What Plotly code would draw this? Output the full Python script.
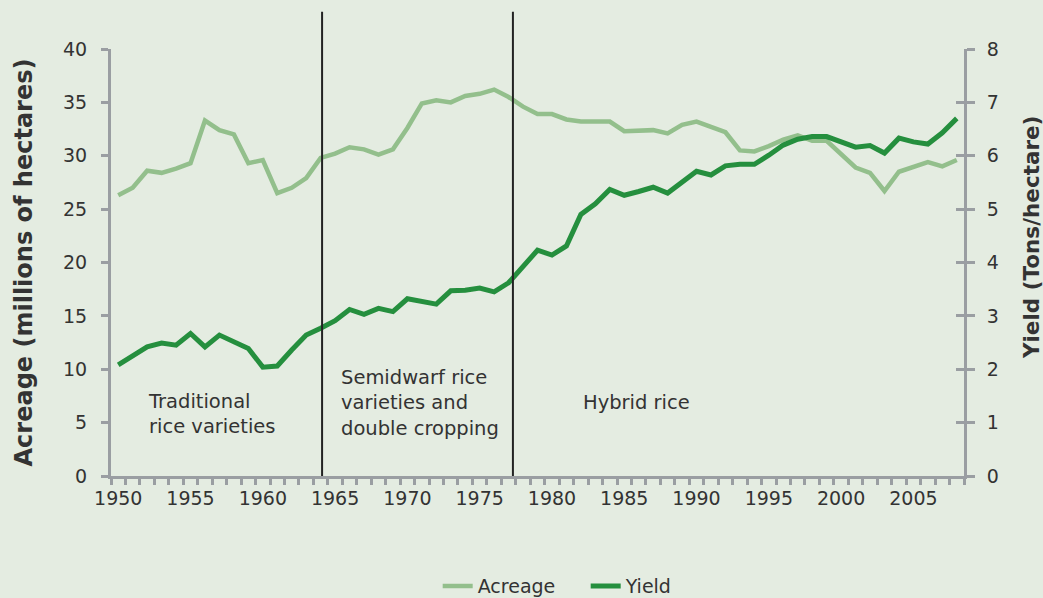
import plotly.graph_objects as go

# Years shown on the category axis
years = list(range(1950, 2009))

# Rice acreage, millions of hectares (left axis)
acreage = [
    26.3, 27.0, 28.6, 28.4, 28.8, 29.3, 33.3, 32.4, 32.0, 29.3,
    29.6, 26.5, 27.0, 27.9, 29.8, 30.2, 30.8, 30.6, 30.1, 30.6,
    32.6, 34.9, 35.2, 35.0, 35.6, 35.8, 36.2, 35.5, 34.6, 33.9,
    33.9, 33.4, 33.2, 33.2, 33.2, 32.3, 32.4, 32.4, 32.1, 32.9,
    33.2, 32.7, 32.2, 30.5, 30.4, 30.9, 31.5, 31.9, 31.4, 31.4,
    30.2, 28.9, 28.4, 26.7, 28.5, 28.9, 29.4, 29.0, 29.6,
]

# Rice yield, tons per hectare (right axis)
yield_t = [
    2.08, 2.25, 2.42, 2.49, 2.45, 2.67, 2.42, 2.64, 2.52, 2.39,
    2.04, 2.06, 2.36, 2.64, 2.77, 2.91, 3.12, 3.03, 3.14, 3.08,
    3.32, 3.28, 3.22, 3.47, 3.48, 3.52, 3.45, 3.62, 3.94, 4.23,
    4.14, 4.31, 4.90, 5.10, 5.37, 5.26, 5.33, 5.41, 5.30, 5.50,
    5.71, 5.64, 5.81, 5.84, 5.84, 6.01, 6.20, 6.31, 6.36, 6.36,
    6.25, 6.16, 6.19, 6.05, 6.33, 6.26, 6.22, 6.43, 6.70,
]

x_labels = list(range(1950, 2010, 5))
era_breaks = [1964.1, 1977.3]
era_labels = ["Traditional<br>rice varieties",
              "Semidwarf rice<br>varieties and<br>double cropping",
              "Hybrid rice"]
era_label_x = [1951.9, 1965.3, 1982.0]
era_label_y = [5.85, 6.85, 6.85]

bg = "#e4ece1"
grey = "#9a9ea2"
txt = "#333333"
font = "DejaVu Sans"

fig = go.Figure()
fig.add_trace(go.Scatter(x=years, y=acreage, mode="lines", name="Acreage",
                         line=dict(color="#93bf8c", width=4.5)))
fig.add_trace(go.Scatter(x=years, y=yield_t, mode="lines", name="Yield",
                         yaxis="y2", line=dict(color="#258f3e", width=5)))
fig.add_trace(go.Scatter(x=[], y=[], yaxis="y3", showlegend=False))

for b in era_breaks:
    fig.add_shape(type="line", xref="x", yref="paper", x0=b, x1=b, y0=0, y1=1.087,
                  line=dict(color="#222222", width=2))

for t, ax, ay in zip(era_labels, era_label_x, era_label_y):
    fig.add_annotation(x=ax, y=ay, xref="x", yref="y", text=t, showarrow=False,
                       xanchor="left", yanchor="middle", align="left",
                       font=dict(family=font, size=19.5, color=txt))

# right axis title sits a little above the axis centre, as in the original
fig.add_annotation(x=1.08, y=0.56, xref="paper", yref="paper",
                   text="<b>Yield (Tons/hectare)</b>", showarrow=False,
                   textangle=-90, xanchor="center", yanchor="middle",
                   font=dict(family=font, size=21.5, color=txt))

fig.update_layout(
    width=1043, height=598,
    paper_bgcolor=bg, plot_bgcolor=bg,
    margin=dict(l=111, r=79, t=49, b=122, autoexpand=False),
    font=dict(family=font, size=19, color=txt),
    showlegend=True,
    legend=dict(orientation="h", xanchor="center", x=0.5565, yanchor="middle",
                yref="container", y=0.02, font=dict(size=19), entrywidth=103,
                bgcolor="rgba(0,0,0,0)"),
    xaxis=dict(
        range=[1949.5, 2008.5], tickmode="array", tickvals=x_labels,
        ticks="outside", ticklen=3, tickcolor="rgba(0,0,0,0)",
        showgrid=False, zeroline=False, showline=True, linecolor=grey, linewidth=3,
        tickfont=dict(size=19, color=txt),
        minor=dict(tickmode="linear", tick0=1949.5, dtick=1, ticks="outside",
                   ticklen=6, tickwidth=3, tickcolor=grey, showgrid=False),
    ),
    yaxis=dict(
        range=[0, 40], dtick=5, ticks="outside", ticklen=7, tickwidth=3,
        tickcolor=grey, showgrid=False, zeroline=False, showline=True,
        linecolor=grey, linewidth=3, tickfont=dict(size=19, color=txt),
        ticklabelstandoff=10,
        title=dict(text="<b>Acreage (millions of hectares)</b>", standoff=24,
                   font=dict(size=24, color=txt)),
    ),
    yaxis2=dict(
        range=[0, 8], dtick=1, overlaying="y", side="right", anchor="x",
        ticks="outside", ticklen=8, tickwidth=3, tickcolor=grey,
        showgrid=False, zeroline=False, showline=True, linecolor=grey, linewidth=3,
        tickfont=dict(size=19, color=txt), ticklabelstandoff=8,
    ),
    yaxis3=dict(
        range=[0, 8], dtick=1, overlaying="y", side="right", anchor="x",
        ticks="inside", ticklen=8, tickwidth=3, tickcolor=grey,
        showgrid=False, zeroline=False, showline=False, showticklabels=False,
    ),
)

fig.write_html("out.html", config={"displayModeBar": False},
               post_script="document.body.style.margin='0px';")
